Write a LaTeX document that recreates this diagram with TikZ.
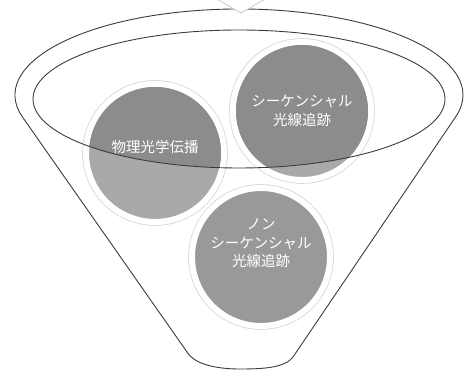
\documentclass[tikz,border=0pt]{standalone}
\usepackage{fontspec}
\newfontfamily\cjk{Noto Sans CJK JP}
\definecolor{linegray}{HTML}{3C3C3C}
\definecolor{balldark}{HTML}{8C8C8C}
\definecolor{balllight}{HTML}{A9A9A9}
\definecolor{ballmid}{HTML}{999999}
\definecolor{ringgray}{HTML}{D6D6D6}
\begin{document}
\begin{tikzpicture}[x=1pt,y=1pt]
\tikzset{
  funnelline/.style={draw=linegray, line width=0.9pt, line join=round},
  ball/.style={circle, minimum size=138pt, inner sep=0pt, draw=white, line width=6pt,
     preaction={draw=ringgray, line width=7.6pt}},
  balltext/.style={text=white, font=\cjk\fontsize{14.5pt}{18.5pt}\selectfont, align=center, inner sep=0pt}
}
\useasboundingbox (0,0) rectangle (465,374);
\fill[white] (0,0) rectangle (465,374);
% funnel outline
\draw[funnelline, fill=white] (239,279) ++(195:224 and 86)
  arc[start angle=195, end angle=-14.6, x radius=224, y radius=86]
  -- (293,17) .. controls (285,6) and (262,5) .. (240,5)
  .. controls (218,5) and (195,9) .. (187,22) -- cycle;
% top arrow tip
\filldraw[fill=white, draw=gray!40, line width=0.8pt, line join=round] (215,376) -- (241,361) -- (267,376);
% balls
\node[ball, fill=balllight] (c1) at (155,221) {};
\node[ball, fill=balllight] (c2) at (302,263) {};
\node[ball, fill=ballmid] (c3) at (261,117) {};
\begin{scope}
  \clip (239,275) ellipse [x radius=206, y radius=69];
  \fill[balldark] (c1.center) circle (66);
  \fill[balldark] (c2.center) circle (66);
\end{scope}
% inner rim
\draw[funnelline] (239,275) ellipse [x radius=206, y radius=69];
% texts
\node[balltext] (t1) at (155,227) {物理光学伝播};
\node[balltext] (t2) at (302,263) {シーケンシャル\\光線追跡};
\node[balltext] (t3) at (261,130.5) {ノン\\シーケンシャル\\光線追跡};
\end{tikzpicture}
\end{document}
